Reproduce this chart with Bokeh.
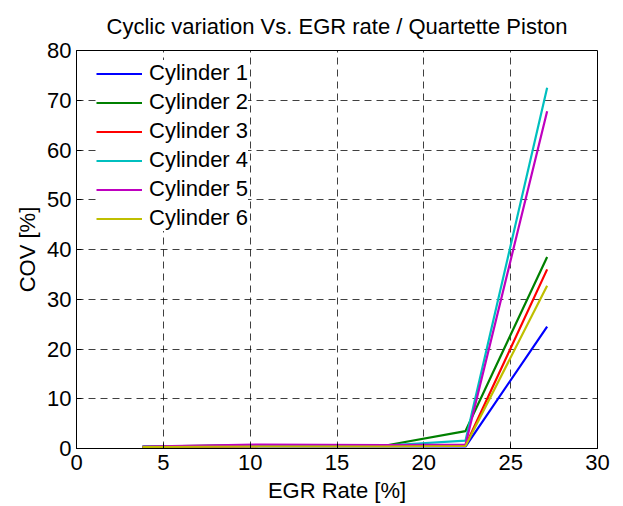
from bokeh.plotting import figure
from bokeh.models import FixedTicker, Range1d, Legend, LegendItem
from bokeh.embed import file_html
from bokeh.resources import INLINE

egr = [3.8, 10.5, 17.8, 22.4, 27.1]
cyl1 = [0.3, 0.4, 0.4, 0.4, 24.5]
cyl2 = [0.4, 0.7, 0.6, 3.5, 38.5]
cyl3 = [0.3, 0.5, 0.5, 0.6, 36.0]
cyl4 = [0.4, 0.6, 0.6, 1.6, 72.5]
cyl5 = [0.4, 0.8, 0.7, 0.8, 67.8]
cyl6 = [0.3, 0.4, 0.4, 0.5, 32.7]
names = ["Cylinder 1", "Cylinder 2", "Cylinder 3", "Cylinder 4", "Cylinder 5", "Cylinder 6"]
series = [cyl1, cyl2, cyl3, cyl4, cyl5, cyl6]
colors = ["#0000ff", "#008000", "#ff0000", "#00bfbf", "#bf00bf", "#bfbf00"]
x_ticks = [0, 5, 10, 15, 20, 25, 30]
y_ticks = [0, 10, 20, 30, 40, 50, 60, 70, 80]

FONT = "Liberation Sans"
FS = "22px"

p = figure(width=617, height=505, output_backend="svg", toolbar_location=None,
           x_range=Range1d(0, 30), y_range=Range1d(0, 80),
           min_border_left=76, min_border_right=20, min_border_top=45, min_border_bottom=54,
           title="Cyclic variation Vs. EGR rate / Quartette Piston")
p.title.text_font = FONT
p.title.text_font_size = FS
p.title.text_font_style = "normal"
p.title.text_color = "black"
p.title.align = "center"
p.title.offset = 0
p.title.standoff = 23

p.outline_line_color = "black"
p.outline_line_width = 1
p.background_fill_color = "white"
p.border_fill_color = "white"

for ax in [p.xaxis[0], p.yaxis[0]]:
    ax.major_label_text_font = FONT
    ax.major_label_text_font_size = FS
    ax.major_label_text_color = "black"
    ax.axis_label_text_font = FONT
    ax.axis_label_text_font_size = FS
    ax.axis_label_text_font_style = "normal"
    ax.axis_label_text_color = "black"
    ax.major_tick_in = 5
    ax.major_tick_out = 0
    ax.minor_tick_line_color = None
    ax.axis_line_color = "black"
    ax.major_tick_line_color = "black"

p.xaxis[0].major_label_standoff = 6
p.yaxis[0].major_label_standoff = 5
p.xaxis[0].ticker = FixedTicker(ticks=x_ticks)
p.yaxis[0].ticker = FixedTicker(ticks=y_ticks)
p.xaxis[0].axis_label = "EGR Rate [%]"
p.yaxis[0].axis_label = "COV [%]"
p.xaxis[0].axis_label_standoff = 5
p.yaxis[0].axis_label_standoff = 4

p.xgrid.ticker = FixedTicker(ticks=x_ticks)
p.ygrid.ticker = FixedTicker(ticks=y_ticks)
for g in [p.xgrid, p.ygrid]:
    g.grid_line_color = "black"
    g.grid_line_alpha = 0.75
    g.grid_line_dash = "7 5"
    g.grid_line_width = 1

items = []
for name, ys, c in zip(names, series, colors):
    r = p.line(egr, ys, line_color=c, line_width=2.2)
    items.append(LegendItem(label=name, renderers=[r]))

legend = Legend(items=items, location=(20, 217))
legend.label_text_font = FONT
legend.label_text_font_size = FS
legend.label_text_color = "black"
legend.glyph_width = 46
legend.glyph_height = 21
legend.label_height = 21
legend.spacing = 3
legend.label_standoff = 7
legend.margin = 0
legend.padding = 9
legend.border_line_color = None
legend.background_fill_color = "white"
legend.background_fill_alpha = 1.0
p.add_layout(legend, "center")

open("out.html", "w").write(file_html(p, INLINE))
